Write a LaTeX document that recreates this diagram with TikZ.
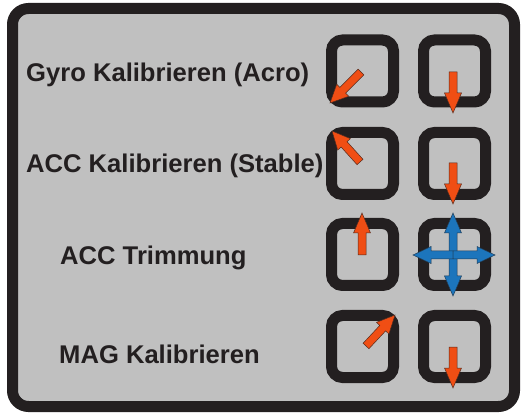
\documentclass[tikz,border=0pt]{standalone}
\usepackage{fontspec}
\setmainfont{Liberation Sans}
\usetikzlibrary{calc}
\definecolor{panel}{RGB}{192,192,192}
\definecolor{ink}{RGB}{35,31,32}
\definecolor{arrowred}{RGB}{240,78,20}
\definecolor{arrowblue}{RGB}{28,117,188}
\tikzset{
  frame/.style={draw=ink, line width=11pt, rounded corners=16pt, fill=panel, inner sep=0pt, minimum width=502pt, minimum height=398pt},
  keybox/.style={draw=ink, line width=11pt, rounded corners=11pt, inner sep=0pt, minimum size=62pt},
  lbl/.style={anchor=base west, inner sep=0pt, text=ink, font=\bfseries\fontsize{25.6}{30}\selectfont},
  redarrow/.style={fill=arrowred, draw=ink!75!arrowred, line width=0.5pt, line join=miter},
  bluearrow/.style={fill=arrowblue, draw=ink!65!arrowblue, line width=0.5pt, line join=miter},
}
% #1 style, #2 tail, #3 tip, #4 head length
\newcommand\blockarrow[4]{%
  \coordinate (arrhead) at ($(#3)!#4!(#2)$);
  \path[#1] ($(#2)!4pt!90:(#3)$) -- ($(arrhead)!4pt!90:(#3)$) -- ($(arrhead)!8.5pt!90:(#3)$) -- (#3)
     -- ($(arrhead)!8.5pt!-90:(#3)$) -- ($(arrhead)!4pt!-90:(#3)$) -- ($(#2)!4pt!-90:(#3)$) -- cycle;
}
\begin{document}
\begin{tikzpicture}[x=1pt,y=-1pt]
\fill[white] (0,0) rectangle (527,419);
\useasboundingbox (0,0) rectangle (527,419);
\node[frame] (panel) at (263.5,207.5) {};

\node[lbl] (t1) at (26,82) {Gyro Kalibrieren (Acro)};
\node[lbl] (t2) at (26,173) {ACC Kalibrieren (Stable)};
\node[lbl] (t3) at (60,265) {ACC Trimmung};
\node[lbl] (t4) at (59,363) {MAG Kalibrieren};

\node[keybox] (k1l) at (362.5,71) {};
\node[keybox] (k1r) at (454.5,71) {};
\node[keybox] (k2l) at (362.5,163.5) {};
\node[keybox] (k2r) at (454.5,163.5) {};
\node[keybox] (k3l) at (362.5,254.5) {};
\node[keybox] (k3r) at (454.5,254.5) {};
\node[keybox] (k4l) at (362.5,346.5) {};
\node[keybox] (k4r) at (454.5,346.5) {};

% row 1
\coordinate (a1lt) at (361,72);  \coordinate (a1lh) at (330,103);
\coordinate (a1rt) at (453,72);  \coordinate (a1rh) at (453,113);
\blockarrow{redarrow}{a1lt}{a1lh}{18pt}
\blockarrow{redarrow}{a1rt}{a1rh}{20pt}
% row 2
\coordinate (a2lt) at (360,162); \coordinate (a2lh) at (332,131);
\coordinate (a2rt) at (453,163); \coordinate (a2rh) at (453,204);
\blockarrow{redarrow}{a2lt}{a2lh}{18pt}
\blockarrow{redarrow}{a2rt}{a2rh}{20pt}
% row 3
\coordinate (a3lt) at (362,255); \coordinate (a3lh) at (362,213);
\blockarrow{redarrow}{a3lt}{a3lh}{20pt}
\coordinate (cross) at (453,255);
\coordinate (cup) at (453,213);
\coordinate (cdown) at (453,296);
\coordinate (cleft) at (413,255);
\coordinate (cright) at (495,255);
\blockarrow{bluearrow}{cross}{cup}{20pt}
\blockarrow{bluearrow}{cross}{cdown}{20pt}
\blockarrow{bluearrow}{cross}{cleft}{18pt}
\blockarrow{bluearrow}{cross}{cright}{18pt}
% row 4
\coordinate (a4lt) at (366,346); \coordinate (a4lh) at (395,315);
\coordinate (a4rt) at (453,347); \coordinate (a4rh) at (453,388);
\blockarrow{redarrow}{a4lt}{a4lh}{18pt}
\blockarrow{redarrow}{a4rt}{a4rh}{20pt}
\end{tikzpicture}
\end{document}
